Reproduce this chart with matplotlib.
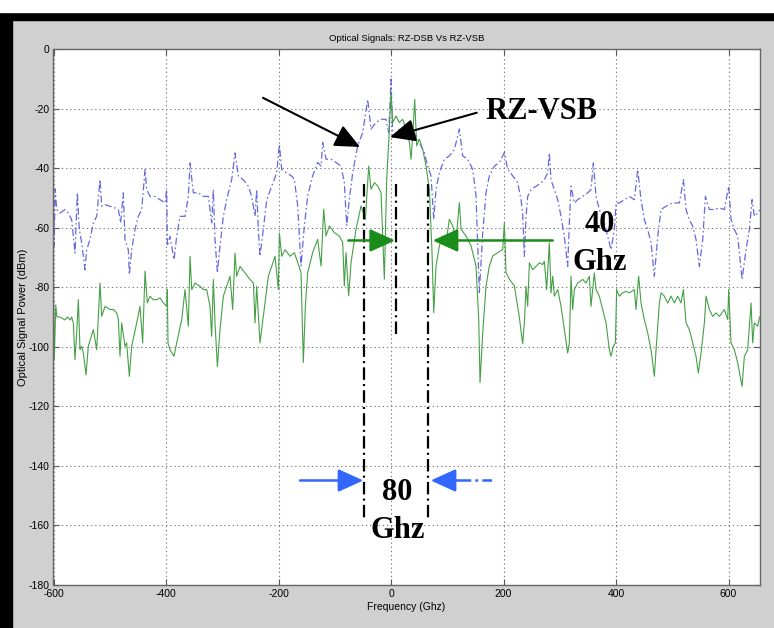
import matplotlib
matplotlib.use('Agg')
import matplotlib.pyplot as plt
from matplotlib.patches import Rectangle

# RZ-DSB (blue, dash-dot) spectrum
dsb_freq = [-600, -599, -597, -594.3, -588.4, -579.5, -573.6, -567.7, -561.8, -557.6,
            -554.1, -549.9, -544, -541, -535.1, -529.2, -523.2, -517.3, -514.3, -508.4,
            -499.5, -490.6, -484.7, -480.6, -475.9, -472.9, -467, -465.2, -461, -455.1,
            -449.2, -443.2, -437.3, -434.4, -428.4, -419.5, -410.6, -401.8, -398.8, -397.5,
            -392.9, -385.8, -381, -375.1, -366.2, -360.3, -357.3, -351.4, -342.5, -333.6,
            -324.7, -318.8, -315.8, -312.9, -308.7, -304, -298.1, -292.2, -283.3, -277.3,
            -271.4, -262.5, -253.6, -247.7, -241.8, -238.8, -235.9, -232.9, -227, -221,
            -212.1, -203.3, -198.5, -194.3, -185.4, -176.5, -171.9, -165.9, -160, -154.1,
            -148.1, -139.3, -130.4, -124.4, -121.5, -115.6, -106.7, -97.8, -88.9, -83,
            -78.8, -74.1, -68.1, -59.3, -50.4, -41.5, -35.6, -26.7, -17.8, -8.9,
            -4.1, 0, 3, 14.8, 32.6, 44.4, 53.3, 59.3, 65.2, 71.1,
            75.9, 80, 85.9, 94.8, 103.7, 112.6, 121.5, 127.4, 136.3, 145.2,
            151.1, 157, 163, 168.9, 174.8, 183.7, 192.6, 201.5, 207.4, 216.3,
            225.2, 231, 234, 237, 240, 242.9, 248.9, 257.7, 266.7, 272.5,
            278.5, 281.4, 284.4, 290.3, 296.3, 302.2, 308.1, 314, 317, 320,
            325.9, 331.8, 340.7, 349.6, 355.5, 359.6, 364.4, 370.3, 379.3, 385.2,
            391.1, 397, 400, 405.9, 414.8, 423.7, 432.5, 438.5, 444.4, 450.3,
            456.3, 462.2, 468.1, 474.1, 480, 488.9, 500.7, 512.6, 519.7, 524.4,
            530.3, 536.3, 542.2, 548.1, 554.1, 558.8, 565.9, 574.8, 583.7, 592.5,
            600.2, 604.4, 610.3, 616.3, 624, 631.1, 637, 641.8, 645.9, 651.8, 655]
dsb_power = [-50.6, -66, -47, -53.9, -55.1, -53.9, -55.1, -57.3, -68.5, -48.3,
             -60.6, -65.1, -74.1, -67.4, -64.0, -58.4, -56.2, -43.9, -52.8, -52.3,
             -52.8, -53.4, -53.9, -58.4, -48.3, -64.0, -67.4, -75.8, -67.4, -60.6,
             -56.2, -53.9, -40.5, -47.2, -49.5, -49.5, -50.6, -51.7, -47.2, -66.2,
             -62.9, -70.7, -62.9, -56.2, -56.2, -49.5, -38.3, -48.3, -48.3, -49.5,
             -49.5, -58.4, -47.2, -64.0, -75.2, -66.2, -56.2, -50.6, -43.9, -34.9,
             -42.7, -43.9, -46.1, -49.5, -56.2, -47.2, -60.6, -69.6, -60.6, -50.6,
             -46.1, -41.6, -32.1, -40.5, -41.6, -42.7, -43.7, -52.7, -72.9, -59.4,
             -49.3, -42.6, -38.1, -39.3, -31.4, -37.0, -37.0, -38.1, -39.3, -44.9,
             -59.4, -50.5, -41.5, -32.5, -28.1, -16.9, -26.9, -24.7, -23.6, -23.6,
             -28.1, -10.1, -29.2, -26.9, -25.8, -29.2, -32.5, -34.8, -39.3, -42.6,
             -57.2, -47.1, -41.5, -37.0, -35.9, -33.7, -26.9, -35.9, -37.0, -40.4,
             -49.3, -81.8, -61.7, -48.2, -42.6, -39.3, -38.1, -34.8, -40.4, -42.6,
             -44.9, -50.5, -55.1, -69.6, -56.2, -49.5, -47.2, -46.1, -45.0, -43.9,
             -41.6, -34.9, -43.9, -47.2, -50.6, -56.2, -62.9, -73.0, -58.4, -46.1,
             -51.7, -50.6, -49.5, -48.3, -47.2, -38.3, -49.5, -53.9, -58.4, -62.9,
             -67.4, -60.6, -51.7, -51.7, -50.6, -49.5, -50.6, -40.5, -50.6, -57.3,
             -60.6, -65.1, -76.3, -62.9, -53.9, -52.8, -51.7, -51.7, -43.9, -53.9,
             -57.3, -59.5, -64.0, -73.0, -64.0, -49.5, -53.9, -53.9, -53.4, -53.9,
             -46.1, -57.3, -60.6, -62.9, -77.4, -67.4, -60.6, -50.6, -56.2, -55.1, -54]

# RZ-VSB (green, solid) spectrum
vsb_freq = [-600, -598.5, -596, -594, -588, -580, -575, -570, -567.7, -564.7,
            -561.8, -558.8, -555.8, -552.9, -549.9, -546.9, -542.2, -538.1, -529.2, -523.2,
            -517.3, -514.3, -508.4, -499.5, -493.6, -487.7, -484.7, -481.8, -478.8, -472.9,
            -470, -465.2, -461, -452.1, -446.2, -441.5, -437.3, -433.2, -428.4, -422.5,
            -416.6, -410.6, -404.7, -398.8, -397.6, -396.5, -392.9, -385.8, -381, -372.1,
            -366.2, -360.3, -357.3, -354.3, -348.4, -339.5, -333.6, -327.7, -321.8, -318.8,
            -315.8, -312.9, -308.7, -304, -298.1, -292.2, -286.2, -281.5, -277.3, -274.4,
            -268.4, -259.6, -250.7, -244.7, -241.8, -238.8, -232.9, -227, -218.1, -212.1,
            -206.2, -200.3, -198.5, -194.3, -188.4, -179.5, -171.9, -165.9, -160, -155.9,
            -152.3, -148.1, -139.3, -130.4, -124.4, -119.7, -115.6, -109.6, -100.7, -91.9,
            -85.9, -83, -80, -75.3, -71.1, -62.2, -53.3, -45.6, -39.7, -35.6,
            -29.6, -23.7, -17.8, -11.9, -7.7, -4.1, 0, 3, 8.9, 14.8,
            20.7, 26.7, 32.6, 35.6, 38.5, 42.1, 45.6, 50.4, 56.3, 62.2,
            68.1, 72.9, 75.9, 80, 85.9, 91.9, 97.8, 103.7, 109.6, 115.6,
            121.5, 124.4, 133.3, 142.2, 151.1, 155.9, 158.2, 163, 168.9, 174.8,
            180.7, 189.6, 198.5, 201.5, 204.4, 210.4, 219.3, 228, 234, 237,
            240, 242.9, 245.9, 251.8, 257.7, 263.7, 269.6, 272.5, 276.7, 281.4,
            284.4, 287.4, 290.3, 296.3, 302.2, 308.1, 314, 317, 320, 322.9,
            325.9, 331.8, 340.7, 346.6, 352.5, 355.5, 361.4, 364.4, 370.3, 376.3,
            382.2, 388.1, 391.1, 395.2, 398.8, 401.1, 405.9, 411.8, 417.7, 423.7,
            432.5, 435.5, 440.2, 444.4, 450.3, 456.3, 462.2, 468.1, 471.1, 477,
            480, 485.9, 491.8, 497.7, 503.7, 509.6, 515.5, 519.7, 524.4, 530.3,
            536.3, 542.2, 546.3, 551.1, 557, 560, 565.9, 571.8, 577.7, 583.7,
            592.5, 598.5, 600.2, 604.4, 610.3, 616.3, 624, 628.1, 634, 640,
            642.9, 645.9, 651.8, 655]
vsb_power = [-83, -104, -86, -90, -90, -91, -90, -91, -90, -92,
             -104.3, -95.4, -84.2, -101, -99.8, -102.1, -109.4, -99.8, -94.2, -101,
             -78.6, -89.8, -86.4, -87.5, -87.5, -88.6, -90.9, -103.2, -92.0, -99.8,
             -98.7, -109.9, -99.8, -92.0, -86.4, -98.7, -74.6, -85.3, -83, -84.2,
             -84.2, -83.6, -85.3, -86.4, -80.8, -98.7, -101, -103.2, -98.7, -90.9,
             -80.8, -93.1, -69.6, -80.8, -78.6, -79.7, -80.8, -80.8, -86.4, -96.5,
             -77.4, -92, -106.6, -94.2, -83, -79.7, -76.3, -87.5, -68.5, -76.3,
             -73, -75.2, -77.4, -78.6, -92, -79.7, -98.7, -89.8, -76.3, -73,
             -69.6, -80.8, -61.8, -69.6, -67.4, -69.6, -68.4, -71.7, -75.1, -105.3,
             -86.3, -75.1, -68.4, -63.9, -72.9, -53.8, -62.8, -59.4, -61.7, -62.8,
             -65.0, -79.6, -68.4, -82.9, -71.7, -60.5, -52.7, -57.2, -39.3, -47.1,
             -44.9, -46.0, -48.2, -77.3, -43.7, -31.4, -14.6, -24.7, -22.5, -24.7,
             -23.6, -26.9, -31.4, -37.0, -29.2, -16.9, -32.5, -30.3, -33.7, -39.3,
             -47.1, -68.4, -88.5, -72.9, -66.1, -62.8, -65.0, -57.2, -59.4, -63.9,
             -51.6, -60.5, -62.8, -66.1, -72.9, -90.8, -112.0, -95.3, -79.6, -72.9,
             -69.5, -68.4, -67.3, -58.3, -75.1, -77.3, -79.6, -90, -99, -92,
             -79.7, -86.4, -71.8, -74.1, -73, -71.8, -72.4, -71.3, -80.8, -65.1,
             -81.9, -76.3, -83, -80.8, -86.4, -94.2, -102.1, -98.7, -76.3, -87.5,
             -80.8, -78.6, -77.4, -78.6, -76.3, -86.4, -75.2, -80.8, -83, -87.5,
             -92, -101, -103.2, -99.8, -98.7, -80.8, -83, -81.9, -81.4, -81.9,
             -80.8, -87.5, -76.3, -85.3, -90.9, -95.4, -101, -109.9, -101, -85.3,
             -81.9, -83, -85.3, -83, -85.3, -83, -85.3, -80.8, -92, -94.2,
             -98.7, -103.2, -108.8, -102.1, -92, -83, -87.5, -89.8, -88.6, -89.8,
             -87.5, -90.9, -80.8, -98.7, -101, -105.4, -113.3, -103.2, -101, -85.3,
             -98.7, -92, -93.1, -90]

x_ticks = [-600, -400, -200, 0, 200, 400, 600]
y_ticks = [0, -20, -40, -60, -80, -100, -120, -140, -160, -180]

plt.rcParams['lines.scale_dashes'] = False
plt.rcParams['axes.unicode_minus'] = False
small = ['Liberation Sans Narrow', 'Liberation Sans', 'DejaVu Sans']
bold_serif = 'Liberation Serif'

fig = plt.figure(figsize=(7.74, 6.28), dpi=100)
fig.patch.set_facecolor('#d0d0d0')
ax = fig.add_axes([53.5 / 774, 43 / 628, 706 / 774, 536 / 628])

ax.plot(dsb_freq, dsb_power, color='#4343d8', lw=0.9, alpha=0.8,
        dashes=(5, 2, 1.2, 2))
ax.plot(vsb_freq, vsb_power, color='#45a045', lw=0.8)

ax.set_xlim(-600, 655)
ax.set_ylim(-180, 0)
ax.set_xticks(x_ticks)
ax.set_yticks(y_ticks)
ax.grid(True, color='#808080', lw=0.8, dashes=(1, 2))
ax.tick_params(direction='in', length=4, top=True, right=True, color='#555555',
               labelsize=7.5, pad=3)
for lab in ax.get_xticklabels() + ax.get_yticklabels():
    lab.set_family(small)
for sp in ax.spines.values():
    sp.set_color('#666666')
    sp.set_linewidth(1)

ax.set_xlabel('Frequency (Ghz)', family=small, fontsize=7.5, labelpad=2)
ax.set_ylabel('Optical Signal Power (dBm)', family=small, fontsize=8)
ax.yaxis.set_label_coords(-0.036, 0.5)
ax.text(0.5, 1.0205, 'Optical Signals: RZ-DSB Vs RZ-VSB', transform=ax.transAxes,
        ha='center', va='center', family=small, fontsize=6.8)

# annotations
head = dict(arrowstyle='-|>,head_length=1.1,head_width=0.5', mutation_scale=14,
            shrinkA=0, shrinkB=0)
ax.annotate('', xy=(-55, -32.9), xytext=(-227.6, -16.4),
            arrowprops=dict(color='black', lw=1.5, **head))
ax.annotate('', xy=(-1.8, -29.6), xytext=(152.4, -21.4),
            arrowprops=dict(color='black', lw=1.5, **head))
ax.text(267.6, -21.0, 'RZ-VSB', family=bold_serif, fontweight='bold', fontsize=22,
        ha='center', va='center')

# 40 Ghz marks
for x in (-48.0, 65.2):
    ax.plot([x, x], [-45.3, -158.1], color='black', lw=1.6, dashes=(9, 3, 1.5, 3))
ax.plot([8.9, 8.9], [-45.3, -96.5], color='black', lw=1.6, dashes=(9, 3, 1.5, 3))
ax.annotate('', xy=(7.1, -64.3), xytext=(-75.9, -64.3),
            arrowprops=dict(color='#1a8c1a', lw=1.8, **head))
ax.annotate('', xy=(74.1, -64.3), xytext=(287.5, -64.3),
            arrowprops=dict(color='#1a8c1a', lw=1.8, **head))
ax.text(371.6, -61.3, '40', family=bold_serif, fontweight='bold', fontsize=22,
        ha='center', va='baseline')
ax.text(371.6, -74.2, 'Ghz', family=bold_serif, fontweight='bold', fontsize=22,
        ha='center', va='baseline')

# 80 Ghz marks
ax.annotate('', xy=(-49.3, -144.9), xytext=(-161.8, -144.9),
            arrowprops=dict(color='#3366ff', lw=1.8, **head))
ax.annotate('', xy=(70.6, -144.9), xytext=(125, -144.9),
            arrowprops=dict(color='#3366ff', lw=1.8, **head))
ax.plot([125, 181.9], [-144.9, -144.9], color='#3366ff', lw=1.8, dashes=(7, 3, 2, 3))
ax.text(11.6, -151.3, '80', family=bold_serif, fontweight='bold', fontsize=22,
        ha='center', va='baseline')
ax.text(11.6, -164.2, 'Ghz', family=bold_serif, fontweight='bold', fontsize=22,
        ha='center', va='baseline')

# black frame round the figure window
W, H = 774, 628
fig.add_artist(Rectangle((0, 0), 12 / W, (H - 12) / H, transform=fig.transFigure,
                         color='black', zorder=-1))
fig.add_artist(Rectangle((0, (H - 20) / H), 1, 8 / H, transform=fig.transFigure,
                         color='black', zorder=-1))
fig.add_artist(Rectangle((0, (H - 12) / H), 1, 12 / H, transform=fig.transFigure,
                         color='white', zorder=-1))

fig.savefig('out.png', dpi=100, facecolor=fig.get_facecolor())
